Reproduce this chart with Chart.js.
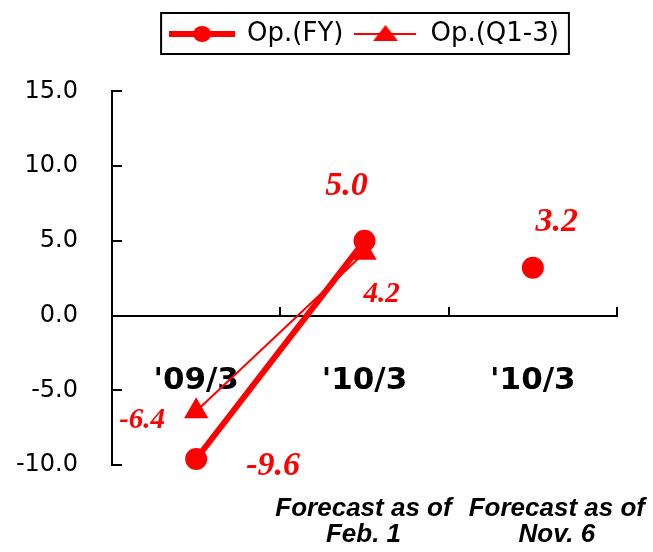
<!DOCTYPE html>
<html>
<head>
<meta charset="utf-8">
<script src="https://cdn.jsdelivr.net/npm/chart.js@4.4.1/dist/chart.umd.min.js"></script>
<style>
  html, body { margin: 0; padding: 0; background: #ffffff; }
  canvas { display: block; }
</style>
</head>
<body>
<canvas id="chart" width="653" height="552"></canvas>
<script>
// Categories and series values
const categories = ["'09/3", "'10/3", "'10/3"];
const seriesNames = ['Op.(FY)', 'Op.(Q1-3)'];
const opFY = [-9.6, 5.0, 3.2];
const opQ13 = [-6.4, 4.2, null];
// Points joined by the trend line (the Nov. 6 forecast stands alone)
const joined = [true, true, false];
// Notes printed under the category labels
const forecastNotes = [[], ['Forecast as of', 'Feb. 1'], ['Forecast as of', 'Nov. 6']];
// Value axis ticks
const yTickValues = [-10, -5, 0, 5, 10, 15];

const RED = '#FF0000';

// Label placement relative to each point (dx, dy)
const valueLabelOffsets = [
  [[77, 7], [-18, -55], [24, -46]],
  [[-54, 9], [17, 42], null]
];
const valueLabelFonts = [
  'italic bold 34px "Liberation Serif"',
  'italic bold 29px "Liberation Serif"'
];
const noteNudge = [0, -1, 24];

// Legend swatches: a line segment with its marker
function makeSwatch(width, lineWidth, drawMarker) {
  const c = document.createElement('canvas');
  c.width = width; c.height = 22;
  const g = c.getContext('2d');
  g.strokeStyle = RED; g.fillStyle = RED; g.lineWidth = lineWidth;
  g.beginPath(); g.moveTo(0, 11); g.lineTo(width, 11); g.stroke();
  drawMarker(g, width / 2, 11);
  return c;
}
const swatches = [
  makeSwatch(66, 6, (g, x, y) => { g.beginPath(); g.ellipse(x, y, 9, 8, 0, 0, Math.PI * 2); g.fill(); }),
  makeSwatch(62, 2, (g, x, y) => { g.beginPath(); g.moveTo(x, y - 9); g.lineTo(x + 12.5, y + 7); g.lineTo(x - 12.5, y + 7); g.closePath(); g.fill(); })
];

// Frame around the legend
const legendFrame = {
  id: 'legendFrame',
  afterDraw(chart) {
    const boxes = chart.legend && chart.legend.legendHitBoxes;
    if (!boxes || !boxes.length) return;
    const first = boxes[0], last = boxes[boxes.length - 1];
    const ctx = chart.ctx;
    ctx.save();
    ctx.strokeStyle = '#000'; ctx.lineWidth = 2;
    const l = first.left - 9, r = last.left + last.width + 10;
    const t = first.top - 8, b = first.top + first.height + 7;
    ctx.strokeRect(l, t, r - l, b - t);
    ctx.restore();
  }
};

// Value labels beside the markers
const valueLabels = {
  id: 'valueLabels',
  afterDatasetsDraw(chart) {
    const ctx = chart.ctx;
    ctx.save();
    ctx.fillStyle = RED;
    ctx.textAlign = 'center';
    ctx.textBaseline = 'middle';
    chart.data.datasets.forEach((ds, di) => {
      const meta = chart.getDatasetMeta(di);
      ctx.font = valueLabelFonts[di];
      meta.data.forEach((pt, i) => {
        const v = ds.data[i];
        const off = valueLabelOffsets[di][i];
        if (v === null || v === undefined || !off) return;
        ctx.fillText(v.toFixed(1), pt.x + off[0], pt.y + off[1]);
      });
    });
    ctx.restore();
  }
};

// Forecast notes under the category axis
const categoryNotes = {
  id: 'categoryNotes',
  afterDraw(chart) {
    const ctx = chart.ctx;
    const xs = chart.scales.x;
    const base = chart.chartArea.bottom;
    ctx.save();
    ctx.fillStyle = '#000';
    ctx.font = 'italic bold 26px "Liberation Sans"';
    ctx.textAlign = 'center';
    ctx.textBaseline = 'alphabetic';
    forecastNotes.forEach((lines, i) => {
      const x = xs.getPixelForValue(i) + noteNudge[i];
      lines.forEach((txt, k) => ctx.fillText(txt, x, base + 51 + k * 26));
    });
    ctx.restore();
  }
};

new Chart(document.getElementById('chart'), {
  type: 'line',
  data: {
    labels: categories,
    datasets: [
      {
        label: seriesNames[0],
        data: opFY,
        borderColor: RED,
        backgroundColor: RED,
        borderWidth: 6,
        pointStyle: 'circle',
        pointRadius: 11,
        pointBackgroundColor: RED,
        pointBorderColor: RED,
        pointBorderWidth: 0,
        tension: 0,
        clip: false,
        segment: {
          borderColor: c => (joined[c.p0DataIndex] && joined[c.p1DataIndex]) ? RED : 'rgba(0,0,0,0)'
        }
      },
      {
        label: seriesNames[1],
        data: opQ13,
        borderColor: RED,
        backgroundColor: RED,
        borderWidth: 2,
        pointStyle: 'triangle',
        pointRadius: 14,
        pointBackgroundColor: RED,
        pointBorderColor: RED,
        pointBorderWidth: 0,
        tension: 0,
        clip: false
      }
    ]
  },
  options: {
    responsive: false,
    animation: false,
    layout: { padding: { top: 11, right: 36, bottom: 87, left: 0 } },
    plugins: {
      tooltip: { enabled: false },
      legend: {
        position: 'top',
        fullSize: false,
        labels: {
          usePointStyle: true,
          pointStyleWidth: 64,
          padding: 10,
          color: '#000',
          font: { family: '"DejaVu Sans"', size: 26 },
          generateLabels(chart) {
            const items = Chart.defaults.plugins.legend.labels.generateLabels(chart);
            items.forEach((it, i) => { it.pointStyle = swatches[i]; });
            return items;
          }
        }
      },
      subtitle: {
        display: true,
        text: '',
        position: 'top',
        fullSize: false,
        weight: 500,
        font: { size: 12 },
        padding: { top: 20, bottom: 0 }
      }
    },
    scales: {
      x: {
        type: 'category',
        position: { y: 0 },
        offset: true,
        grid: {
          display: true,
          offset: true,
          drawOnChartArea: false,
          drawTicks: true,
          tickLength: -10,
          color: '#000',
          lineWidth: 2
        },
        border: { display: true, color: '#000', width: 2 },
        ticks: {
          padding: 57,
          color: '#000',
          autoSkip: false,
          maxRotation: 0,
          font: { family: '"DejaVu Sans"', size: 31, weight: 'bold' }
        }
      },
      y: {
        min: -10,
        max: 15,
        afterBuildTicks: s => { s.ticks = yTickValues.map(v => ({ value: v })); },
        afterFit: s => { s.width = 112; },
        grid: {
          drawOnChartArea: false,
          drawTicks: true,
          tickLength: -10,
          color: '#000',
          lineWidth: 2
        },
        border: { display: true, color: '#000', width: 2 },
        ticks: {
          padding: 44,
          color: '#000',
          font: { family: '"DejaVu Sans"', size: 24 },
          callback: v => Number(v).toFixed(1)
        }
      }
    }
  },
  plugins: [valueLabels, legendFrame, categoryNotes]
});
</script>
</body>
</html>
